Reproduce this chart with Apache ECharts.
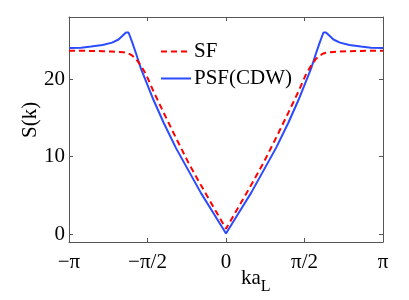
<!DOCTYPE html>
<html>
<head>
<meta charset="utf-8">
<script src="https://cdn.jsdelivr.net/npm/echarts@6/dist/echarts.min.js"></script>
<style>html,body{margin:0;padding:0;background:#fff;}#c{width:409px;height:300px;}</style>
</head>
<body>
<div id="c"></div>
<script>
// k values (radians)
var kValues = [-3.1416, -2.9, -2.7, -2.47, -2.28, -2.15, -2.05, -2.0, -1.95, -1.88, -1.8, -1.7, -1.6, -1.45, -1.25, -1.0, -0.75, -0.5, -0.25, 0,
               0.25, 0.5, 0.75, 1.0, 1.25, 1.45, 1.6, 1.7, 1.8, 1.88, 1.95, 2.0, 2.05, 2.15, 2.28, 2.47, 2.7, 2.9, 3.1416];
// SF (red dashed)
var sfValues = [23.65, 23.65, 23.62, 23.6, 23.55, 23.5, 23.45, 23.4, 23.3, 23.05, 22.6, 21.7, 20.6, 18.4, 15.7, 12.4, 9.2, 6.3, 3.5, 0.7,
                3.5, 6.3, 9.2, 12.4, 15.7, 18.4, 20.6, 21.7, 22.6, 23.05, 23.3, 23.4, 23.45, 23.5, 23.55, 23.6, 23.62, 23.65, 23.65];
// PSF(CDW) (blue solid)
var psfValues = [24.0, 24.05, 24.2, 24.4, 24.7, 25.1, 25.7, 26.0, 26.0, 24.8, 23.3, 21.3, 19.7, 17.3, 14.4, 11.1, 8.2, 5.3, 2.7, 0.1,
                 2.7, 5.3, 8.2, 11.1, 14.4, 17.3, 19.7, 21.3, 23.3, 24.8, 26.0, 26.0, 25.7, 25.1, 24.7, 24.4, 24.2, 24.05, 24.0];
// tick labels
var xTickLabels = ['\u2212\u03c0', '\u2212\u03c0/2', '0', '\u03c0/2', '\u03c0'];
var yTickValues = [0, 10, 20];

var serif = 'Liberation Serif';
var axisColor = '#555';

function pairs(xs, ys) { return xs.map(function (x, i) { return [x, ys[i]]; }); }

var chart = echarts.init(document.getElementById('c'), null, {renderer: 'canvas'});
var xCommon = {
  type: 'value', min: -Math.PI, max: Math.PI, interval: Math.PI / 2,
  splitLine: {show: false},
  axisLine: {show: true, onZero: false, lineStyle: {color: axisColor, width: 1}},
  axisTick: {show: true, inside: true, length: 4, lineStyle: {color: axisColor}}
};
var yCommon = {
  type: 'value', min: -1, max: 28,
  splitLine: {show: false},
  axisLine: {show: true, onZero: false, lineStyle: {color: axisColor, width: 1}},
  axisTick: {show: true, inside: true, length: 4, customValues: yTickValues, lineStyle: {color: axisColor}}
};
chart.setOption({
  backgroundColor: '#fff',
  animation: false,
  grid: {left: 69, right: 26, top: 17, bottom: 58, containLabel: false},
  xAxis: [
    Object.assign({}, xCommon, {
      position: 'bottom',
      axisLabel: {
        show: true, margin: 10, color: '#000', fontFamily: serif, fontSize: 21,
        formatter: function (v) { return xTickLabels[Math.round(v / (Math.PI / 2)) + 2]; }
      }
    }),
    Object.assign({}, xCommon, {position: 'top', axisLabel: {show: false}})
  ],
  yAxis: [
    Object.assign({}, yCommon, {
      position: 'left',
      axisLabel: {show: true, margin: 4, color: '#000', fontFamily: serif, fontSize: 21, customValues: yTickValues}
    }),
    Object.assign({}, yCommon, {position: 'right', axisLabel: {show: false}})
  ],
  legend: {
    orient: 'vertical', left: 155, top: 36, itemWidth: 30, itemHeight: 14, itemGap: 6,
    itemStyle: {opacity: 0},
    textStyle: {color: '#000', fontFamily: serif, fontSize: 21, padding: [0, 0, 0, -2]},
    data: ['SF', 'PSF(CDW)']
  },
  series: [
    {
      name: 'SF', type: 'line', data: pairs(kValues, sfValues), showSymbol: false, symbol: 'none',
      lineStyle: {color: '#ff0000', width: 2, type: [6, 4]}, itemStyle: {color: '#ff0000'}, z: 3
    },
    {
      name: 'PSF(CDW)', type: 'line', data: pairs(kValues, psfValues), showSymbol: false, symbol: 'none',
      lineStyle: {color: '#2a4bff', width: 2}, itemStyle: {color: '#2a4bff'}, z: 2
    }
  ],
  graphic: [
    {
      type: 'text', rotation: Math.PI / 2,
      style: {text: 'S(k)', fontFamily: serif, fontSize: 21, fill: '#000'},
      x: 20, y: 138, originX: 0, originY: 0
    },
    {
      type: 'text', left: 241, top: 268,
      style: {
        text: '{a|ka}{b|L}', fill: '#000',
        rich: {
          a: {fontFamily: serif, fontSize: 21, fill: '#000'},
          b: {fontFamily: serif, fontSize: 16, fill: '#000', padding: [16, 0, 0, 0]}
        }
      }
    }
  ]
});
</script>
</body>
</html>
